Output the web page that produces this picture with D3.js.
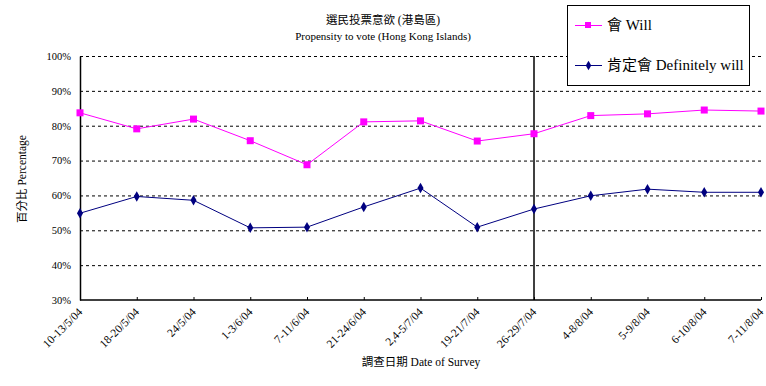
<!DOCTYPE html>
<html><head><meta charset="utf-8">
<script src="https://cdn.jsdelivr.net/npm/d3@7"></script>
<style>
body{margin:0;background:#fff;}
text{font-family:"Liberation Serif","Noto Sans CJK TC",serif;fill:#000;}
</style></head>
<body>
<svg id="c" width="766" height="386"></svg>
<script>
const categories = ["10-13/5/04","18-20/5/04","24/5/04","1-3/6/04","7-11/6/04","21-24/6/04","2,4-5/7/04","19-21/7/04","26-29/7/04","4-8/8/04","5-9/8/04","6-10/8/04","7-11/8/04"];
const willValues = [83.7, 79.1, 81.9, 75.7, 68.8, 81.1, 81.4, 75.6, 77.7, 82.9, 83.4, 84.5, 84.2];
const definitelyValues = [54.9, 59.7, 58.6, 50.7, 50.9, 56.7, 62.1, 50.9, 56.1, 59.9, 61.8, 60.9, 60.9];
const yTicks = [30, 40, 50, 60, 70, 80, 90, 100];
const markerCategory = "26-29/7/04";
const seriesNames = ["會 Will", "肯定會 Definitely will"];

const svg = d3.select("#c");
const L = 80, R = 761, T = 56, B = 300;
const x = d3.scalePoint().domain(categories).range([L, R]);
const y = d3.scaleLinear().domain([30, 100]).range([B, T]);

// gridlines
svg.append("g").selectAll("line").data(yTicks.filter(d => d > 30)).join("line")
  .attr("x1", L).attr("x2", R).attr("y1", d => y(d) + 0.5).attr("y2", d => y(d) + 0.5)
  .attr("stroke", "#000").attr("stroke-width", 1).attr("stroke-dasharray", "3,3");

// y axis
const yAxis = d3.axisLeft(y).tickValues(yTicks).tickSize(0).tickPadding(9).tickFormat(d => d + "%");
const gy = svg.append("g").attr("transform", `translate(${L},0)`).call(yAxis);
gy.select(".domain").attr("stroke", "#000").attr("stroke-width", 1.5);
gy.selectAll("text").style("font-size", "10.5px").style("font-family", '"Liberation Serif",serif');

// x axis
const xAxis = d3.axisBottom(x).tickSize(-3).tickPadding(6);
const gx = svg.append("g").attr("transform", `translate(0,${B})`).call(xAxis);
gx.select(".domain").attr("stroke", "#000").attr("stroke-width", 1.5).attr("d", `M${L},0H${R}`);
gx.selectAll(".tick line").attr("stroke", "#000");
gx.selectAll("text").style("font-size", "11.5px").style("font-family", '"Liberation Serif",serif')
  .attr("text-anchor", "end").attr("dy", "0.3em")
  .attr("transform", "translate(-4,6) rotate(-45)");

// vertical marker line
svg.append("line").attr("x1", x(markerCategory)).attr("x2", x(markerCategory))
  .attr("y1", T).attr("y2", B).attr("stroke", "#000").attr("stroke-width", 1.5);

const line = d3.line().x((d, i) => x(categories[i])).y(d => y(d));
// Will series
svg.append("path").datum(willValues).attr("d", line).attr("fill", "none").attr("stroke", "#ff00ff").attr("stroke-width", 1);
svg.append("g").selectAll("rect").data(willValues).join("rect")
  .attr("x", (d, i) => x(categories[i]) - 3.5).attr("y", d => y(d) - 3.5)
  .attr("width", 7).attr("height", 7).attr("fill", "#ff00ff");
// Definitely series
svg.append("path").datum(definitelyValues).attr("d", line).attr("fill", "none").attr("stroke", "#000080").attr("stroke-width", 1);
const diamond = d3.symbol().type(d3.symbolDiamond).size(32);
svg.append("g").selectAll("path").data(definitelyValues).join("path")
  .attr("d", diamond).attr("transform", (d, i) => `translate(${x(categories[i])},${y(d)})`)
  .attr("fill", "#000080");

// titles
svg.append("text").attr("x", 383).attr("y", 24).attr("text-anchor", "middle").style("font-size", "11.5px").text("選民投票意欲 (港島區)");
svg.append("text").attr("x", 383).attr("y", 40).attr("text-anchor", "middle").style("font-size", "11px").text("Propensity to vote (Hong Kong Islands)");
svg.append("text").attr("x", 421).attr("y", 366).attr("text-anchor", "middle").style("font-size", "11.5px").text("調查日期 Date of Survey");
svg.append("text").attr("transform", "translate(26,179) rotate(-90)").attr("text-anchor", "middle").style("font-size", "11.5px").text("百分比 Percentage");

// legend
const lg = svg.append("g");
lg.append("rect").attr("x", 567.5).attr("y", 5.5).attr("width", 182).attr("height", 80)
  .attr("fill", "#fff").attr("stroke", "#000").attr("stroke-width", 1);
const items = [{name: seriesNames[0], color: "#ff00ff", type: "sq", yy: 25}, {name: seriesNames[1], color: "#000080", type: "dm", yy: 65}];
items.forEach(it => {
  lg.append("line").attr("x1", 575).attr("x2", 602).attr("y1", it.yy + 0.5).attr("y2", it.yy + 0.5).attr("stroke", it.color).attr("stroke-width", 1);
  if (it.type === "sq") lg.append("rect").attr("x", 585).attr("y", it.yy - 3).attr("width", 6).attr("height", 6).attr("fill", it.color);
  else lg.append("path").attr("d", d3.symbol().type(d3.symbolDiamond).size(26)).attr("transform", `translate(588.5,${it.yy + 0.5})`).attr("fill", it.color);
  lg.append("text").attr("x", 607).attr("y", it.yy + 5).style("font-size", "15px").text(it.name);
});
</script>
</body></html>
